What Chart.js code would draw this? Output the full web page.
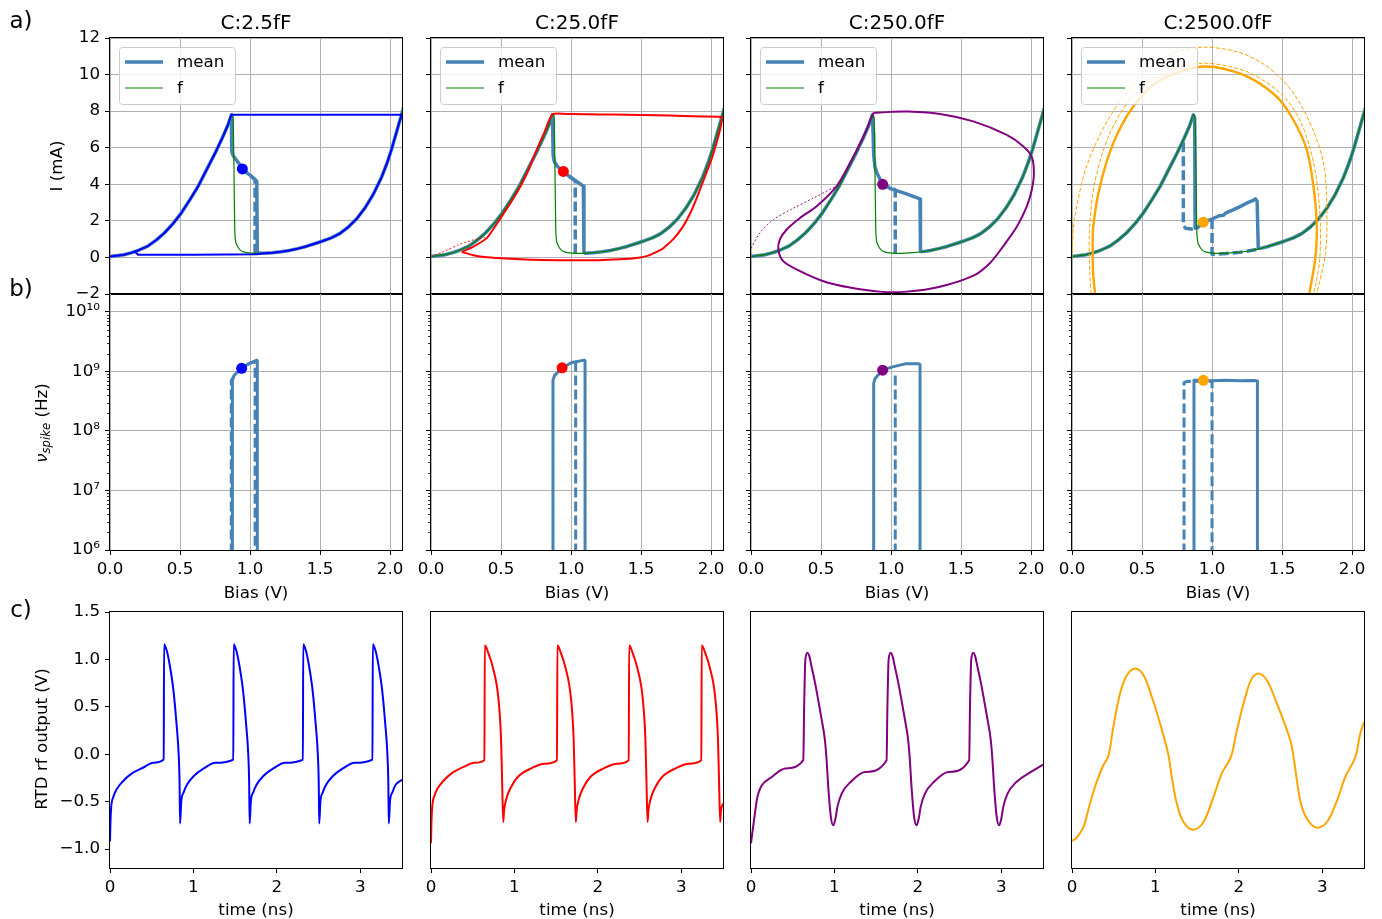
<!DOCTYPE html>
<html>
<head>
<meta charset="utf-8">
<script src="https://cdn.jsdelivr.net/npm/chart.js@4"></script>
<style>
  body { margin: 0; background: #fff; }
  #fig { position: relative; width: 1382px; height: 919px; font-family: 'DejaVu Sans', sans-serif; color: #000; overflow: hidden; }
  .panel { position: absolute; }
  .txt { position: absolute; white-space: nowrap; line-height: 1; transform: translate(-50%, -50%); }
  .rot { transform: translate(-50%, -50%) rotate(-90deg); }
  sub { font-size: 70%; vertical-align: -0.25em; }
</style>
</head>
<body>
<div id="fig"></div>
<script>
// ---- data ----
const panelTitles = ['C:2.5fF', 'C:25.0fF', 'C:250.0fF', 'C:2500.0fF'];

const biasTicks = [0, 0.5, 1.0, 1.5, 2.0];
const currentTicks = [-2, 0, 2, 4, 6, 8, 10, 12];
const freqDecades = [1e6, 1e7, 1e8, 1e9, 1e10];
const timeTicks = [0, 1, 2, 3];
const voltTicks = [-1.0, -0.5, 0.0, 0.5, 1.0, 1.5];

// static I-V curve (V, mA)
const leftBranch = [[0,0.05],[0.1,0.15],[0.15,0.25],[0.2,0.38],[0.27,0.62],[0.33,0.95],[0.39,1.35],[0.45,1.85],
  [0.51,2.44],[0.57,3.15],[0.63,3.9],[0.69,4.8],[0.75,5.7],[0.8,6.5],[0.84,7.2],[0.867,7.8]];
const fDrop = [[0.879,7.6],[0.884,5.5],[0.888,3.0],[0.892,1.3],[0.905,0.7],[0.93,0.4],[0.96,0.29],[1.0,0.24],[1.05,0.22]];
const rightBranch = [[1.1,0.23],[1.16,0.26],[1.22,0.31],[1.28,0.38],[1.34,0.48],[1.4,0.6],[1.46,0.75],[1.52,0.9],
  [1.58,1.07],[1.64,1.3],[1.7,1.65],[1.76,2.1],[1.82,2.7],[1.88,3.45],[1.94,4.4],[1.98,5.2],[2.01,5.9],[2.04,6.7],[2.07,7.5],[2.1,8.3]];
const fCurve = [...leftBranch, ...fDrop, ...rightBranch];

// mean current, forward (solid) and backward (dashed) sweeps
const meanNdr1 = [[0.869,6.6],[0.869,5.8],[0.88,5.55],[0.9,5.35],[0.93,5.05],[0.945,4.85],[0.97,4.65],[1.0,4.5],[1.03,4.3],[1.048,4.15],[1.052,0.25],[1.08,0.23]];
const meanNdr2 = [[0.87,6.6],[0.872,5.6],[0.88,5.25],[0.9,5.0],[0.945,4.7],[1.0,4.35],[1.05,4.1],[1.088,3.9],[1.092,0.28]];
const meanNdr3 = [[0.872,6.8],[0.876,5.6],[0.885,4.95],[0.9,4.6],[0.94,4.0],[1.0,3.75],[1.1,3.5],[1.207,3.2],[1.21,0.33],[1.24,0.33]];
const meanNdr4 = [[0.876,7.6],[0.879,1.6],[0.9,1.65],[0.938,1.93],[1.0,2.1],[1.05,2.28],[1.08,2.3],[1.1,2.44],[1.15,2.6],
  [1.2,2.78],[1.25,2.98],[1.29,3.1],[1.31,3.2],[1.322,3.07],[1.33,0.5],[1.36,0.52]];
const meanBack1 = [[1.036,0.2],[1.036,4.25],[1.0,4.5],[0.945,4.85]];
const meanBack2 = [[1.03,0.22],[1.03,4.2],[0.945,4.7]];
const meanBack3 = [[1.03,0.22],[1.03,3.7],[0.94,4.0]];
const meanBack4a = [[0.795,6.3],[0.795,1.8],[0.81,1.6],[0.85,1.55],[0.879,1.6]];
const meanBack4b = [[1.0,2.1],[1.0,0.17],[1.1,0.21],[1.2,0.28],[1.33,0.45]];

// operating points
const opPointsIV = [[0.945,4.84],[0.945,4.7],[0.94,4.0],[0.938,1.93]];

// limit-cycle trajectories in the I-V plane
const orbit1 = [...leftBranch, [2.085,7.8], ...rightBranch.filter(p => p[0] <= 2.07).reverse(),
  [1.05,0.17],[0.6,0.15],[0.2,0.15],[0.18,0.3]];
const orbit2 = [[0.22,0.3],[0.3,0.58],[0.4,1.07],[0.49,2.07],[0.57,3.0],[0.64,3.9],[0.7,4.85],[0.755,5.9],[0.81,6.85],
  [0.867,7.84],[1.0,7.84],[1.2,7.82],[1.4,7.8],[1.6,7.78],[1.8,7.74],[1.95,7.71],[2.076,7.67],[2.07,7.2],[2.04,6.3],
  [2.0,5.3],[1.945,4.2],[1.9,3.3],[1.85,2.4],[1.8,1.7],[1.73,1.0],[1.65,0.45],[1.55,0.1],[1.45,-0.05],[1.35,-0.1],
  [1.2,-0.15],[1.0,-0.16],[0.8,-0.14],[0.64,-0.1],[0.5,-0.05],[0.38,0.02],[0.3,0.12],[0.22,0.3]];
const start2 = [[0,0.05],[0.1,0.35],[0.2,0.7],[0.3,0.95],[0.385,1.1]];
const orbit3 = [[0.874,7.9],[1.0,7.96],[1.11,7.98],[1.35,7.85],[1.588,7.44],[1.826,6.7],[1.945,6.07],[2.005,5.5],[2.02,4.6],
  [2.005,3.7],[1.97,2.8],[1.9,1.7],[1.8,0.6],[1.707,-0.3],[1.588,-1.0],[1.35,-1.6],[1.11,-1.87],[0.92,-1.87],[0.707,-1.65],
  [0.517,-1.3],[0.35,-0.75],[0.23,-0.2],[0.195,0.44],[0.207,1.0],[0.255,1.53],[0.35,2.16],[0.469,2.8],[0.612,3.9],
  [0.707,5.16],[0.802,6.6],[0.874,7.9]];
const start3 = [[0,0.5],[0.064,1.35],[0.16,2.07],[0.28,2.6],[0.445,3.25],[0.61,3.9]];
const orbit4 = [[0.17,-2.3],[0.152,-1.0],[0.148,0.25],[0.152,1.7],[0.2,3.9],[0.295,6.25],[0.438,8.25],[0.63,9.7],
  [0.938,10.44],[1.224,9.98],[1.46,8.8],[1.58,7.53],[1.676,5.9],[1.724,3.9],[1.748,1.7],[1.736,-0.1],[1.7,-1.75],[1.685,-2.3]];
const start4a = [[0,0],[0.005,1.0],[0.02,2.25],[0.105,5.0],[0.27,7.7],[0.51,10.07],[0.72,11.16],[0.938,11.5],[1.2,11.2],
  [1.4,10.4],[1.58,9.0],[1.72,7.0],[1.8,5.0],[1.82,2.4],[1.81,0.25],[1.75,-1.9],[1.73,-2.3]];
const start4b = [[0.14,-2.3],[0.128,-1.0],[0.124,1.35],[0.16,4.0],[0.26,6.6],[0.42,8.7],[0.65,10.1],[0.938,10.62],
  [1.25,10.15],[1.5,8.9],[1.64,7.3],[1.73,5.0],[1.77,2.4],[1.77,0.0],[1.74,-1.5],[1.71,-2.3]];

// spike rate (V, Hz)
const freqUp1 = [[0.874,1e5],[0.874,7.2e8],[0.885,8.5e8],[0.905,9.5e8],[0.94,1.13e9],[0.988,1.34e9],[1.048,1.55e9],[1.052,1.5e9],[1.052,1e5]];
const freqDown1 = [[0.866,1e5],[0.866,7.0e8],[0.9,9.3e8],[0.94,1.12e9],[1.0,1.38e9],[1.036,1.45e9],[1.036,1e5]];
const freqUp2 = [[0.871,1e5],[0.871,7.2e8],[0.882,8.5e8],[0.898,9.3e8],[0.936,1.15e9],[1.005,1.41e9],[1.095,1.55e9],[1.1,1.5e9],[1.1,1e5]];
const freqDown2 = [[1.033,1e5],[1.033,1.45e9]];
const freqUp3 = [[0.876,1e5],[0.876,6.3e8],[0.885,7.5e8],[0.898,8.2e8],[0.94,1.05e9],[1.005,1.18e9],[1.1,1.34e9],[1.2,1.34e9],[1.207,1.3e9],[1.207,1e5]];
const freqDown3 = [[1.03,1e5],[1.03,9.5e8]];
const freqUp4 = [[0.871,1e5],[0.871,7.1e8],[0.938,7.1e8],[1.0,7.0e8],[1.1,7.1e8],[1.2,7.0e8],[1.3,7.05e8],[1.324,6.9e8],[1.324,1e5]];
const freqDown4 = [[0.8,1e5],[0.8,6.5e8],[0.82,6.8e8],[0.9,6.9e8],[1.0,6.8e8],[1.0,1e5]];
const opPointsFreq = [[0.94,1.13e9],[0.936,1.15e9],[0.94,1.05e9],[0.938,7.1e8]];

// RTD rf output (ns, V)
const traceBlue = [[0,-0.92],[0.006,-0.7],[0.015,-0.55],[0.04,-0.45],[0.08,-0.37],[0.15,-0.29],[0.25,-0.21],[0.4,-0.14],[0.52,-0.09],[0.644,-0.056],
  [0.648,1.16],[0.684,1.08],[0.72,0.92],[0.754,0.72],[0.78,0.5],[0.804,0.25],[0.82,0.05],[0.834,-0.3],[0.84,-0.73],[0.854,-0.5],[0.884,-0.4],[0.924,-0.32],[1.004,-0.23],[1.124,-0.15],[1.264,-0.09],[1.478,-0.056],
  [1.482,1.16],[1.518,1.08],[1.554,0.92],[1.588,0.72],[1.614,0.5],[1.638,0.25],[1.654,0.05],[1.668,-0.3],[1.674,-0.73],[1.688,-0.5],[1.718,-0.4],[1.758,-0.32],[1.838,-0.23],[1.958,-0.15],[2.098,-0.09],[2.312,-0.056],
  [2.316,1.16],[2.352,1.08],[2.388,0.92],[2.422,0.72],[2.448,0.5],[2.472,0.25],[2.488,0.05],[2.502,-0.3],[2.508,-0.73],[2.522,-0.5],[2.552,-0.4],[2.592,-0.32],[2.672,-0.23],[2.792,-0.15],[2.932,-0.09],[3.146,-0.056],
  [3.15,1.16],[3.186,1.08],[3.222,0.92],[3.256,0.72],[3.282,0.5],[3.306,0.25],[3.322,0.05],[3.336,-0.3],[3.342,-0.73],[3.356,-0.5],[3.386,-0.4],[3.426,-0.32],[3.5,-0.27]];
const traceRed = [[0,-0.94],[0.006,-0.7],[0.015,-0.55],[0.04,-0.44],[0.08,-0.36],[0.15,-0.28],[0.25,-0.2],[0.4,-0.13],[0.52,-0.09],[0.64,-0.063],
  [0.645,1.15],[0.69,1.06],[0.74,0.92],[0.81,0.57],[0.84,0.15],[0.853,-0.3],[0.866,-0.715],[0.875,-0.6],[0.9,-0.48],[0.96,-0.345],[1.04,-0.24],[1.2,-0.15],[1.36,-0.1],[1.51,-0.063],
  [1.515,1.15],[1.56,1.06],[1.61,0.92],[1.68,0.57],[1.71,0.15],[1.723,-0.3],[1.736,-0.715],[1.745,-0.6],[1.77,-0.48],[1.83,-0.345],[1.91,-0.24],[2.07,-0.15],[2.23,-0.1],[2.37,-0.063],
  [2.375,1.15],[2.42,1.06],[2.47,0.92],[2.54,0.57],[2.57,0.15],[2.583,-0.3],[2.596,-0.715],[2.605,-0.6],[2.63,-0.48],[2.69,-0.345],[2.77,-0.24],[2.93,-0.15],[3.09,-0.1],[3.24,-0.063],
  [3.245,1.15],[3.29,1.06],[3.34,0.92],[3.41,0.57],[3.44,0.15],[3.453,-0.3],[3.466,-0.715],[3.475,-0.6],[3.5,-0.52]];
const tracePurple = [[0,-0.94],[0.02,-0.8],[0.048,-0.62],[0.07,-0.48],[0.088,-0.415],[0.128,-0.33],[0.25,-0.24],[0.41,-0.15],[0.627,-0.063],
  [0.637,0.5],[0.652,1.0],[0.677,1.07],[0.697,1.04],[0.727,0.92],[0.766,0.76],[0.806,0.57],[0.846,0.37],[0.886,0.148],[0.906,-0.06],[0.926,-0.345],[0.957,-0.66],[0.987,-0.75],[1.012,-0.68],[1.037,-0.55],[1.087,-0.415],[1.197,-0.29],[1.367,-0.187],[1.625,-0.063],
  [1.635,0.5],[1.65,1.0],[1.675,1.07],[1.695,1.04],[1.725,0.92],[1.764,0.76],[1.804,0.57],[1.844,0.37],[1.884,0.148],[1.904,-0.06],[1.924,-0.345],[1.955,-0.66],[1.985,-0.75],[2.01,-0.68],[2.035,-0.55],[2.085,-0.415],[2.195,-0.29],[2.365,-0.187],[2.615,-0.063],
  [2.625,0.5],[2.64,1.0],[2.665,1.07],[2.685,1.04],[2.715,0.92],[2.754,0.76],[2.794,0.57],[2.834,0.37],[2.874,0.148],[2.894,-0.06],[2.914,-0.345],[2.945,-0.66],[2.975,-0.75],[3.0,-0.68],[3.025,-0.55],[3.075,-0.415],[3.185,-0.29],[3.355,-0.187],[3.5,-0.11]];
const traceOrange = [[0,-0.915],[0.056,-0.88],[0.136,-0.77],[0.216,-0.52],[0.296,-0.29],[0.376,-0.116],[0.436,-0.02],[0.496,0.29],
  [0.576,0.64],[0.656,0.83],[0.756,0.905],[0.856,0.835],[0.956,0.606],[1.056,0.324],[1.156,-0.01],[1.196,-0.24],[1.256,-0.52],
  [1.336,-0.715],[1.456,-0.796],[1.576,-0.715],[1.696,-0.45],[1.796,-0.2],[1.904,-0.03],[1.976,0.25],[2.076,0.6],[2.156,0.8],
  [2.236,0.85],[2.336,0.78],[2.456,0.535],[2.616,0.15],[2.656,-0.03],[2.736,-0.49],[2.816,-0.68],[2.936,-0.775],[3.056,-0.715],
  [3.176,-0.49],[3.276,-0.24],[3.396,-0.03],[3.456,0.22],[3.5,0.34]];

// ---- styling / layout ----
const colors = ['#0000ff', '#ff0000', '#800080', '#ffa500'];
const STEEL = '#4682b4', GREEN = '#008000', GRID = '#b0b0b0';
const COL_X = [110, 431, 751, 1072];
const ROW_Y = { a: 38, b: 294, c: 612 };
const PW = 292, PH = 256;

Chart.defaults.font.family = 'DejaVu Sans';
Chart.defaults.font.size = 16.7;
Chart.defaults.color = '#000';

const fig = document.getElementById('fig');
const pts = arr => arr.map(([x, y]) => ({ x, y }));
const minus = s => String(s).replace('-', '\u2212');
const isDecade = v => Math.abs(Math.log10(v) - Math.round(Math.log10(v))) < 1e-6;
const sup = n => String(n).split('').map(d => '⁰¹²³⁴⁵⁶⁷⁸⁹'[d]).join('');
const freqTicks = [];
freqDecades.forEach(d => [1, 2, 3, 4, 5, 6, 7, 8, 9].forEach(m => { if (d * m <= 2e10) freqTicks.push(d * m); }));

function line(arr, color, width, dash, tension, mono) {
  return { data: pts(arr), showLine: true, borderColor: color, backgroundColor: color, borderWidth: width,
    borderDash: dash || [], pointRadius: 0, tension: tension || 0, clip: 0,
    cubicInterpolationMode: mono ? 'monotone' : 'default', borderCapStyle: 'butt', borderJoinStyle: 'round' };
}
function dot(p, color) {
  return { data: pts([p]), showLine: false, pointRadius: 5.5, backgroundColor: color, borderColor: color, borderWidth: 0 };
}

function axis(o) {
  const major = o.major || (() => true);
  return {
    type: o.type || 'linear', min: o.min, max: o.max, bounds: 'data',
    afterBuildTicks: s => { s.ticks = o.ticks.map(v => ({ value: v })); },
    ticks: { display: o.labels, autoSkip: false, maxRotation: 0, padding: 5, callback: o.fmt },
    grid: {
      display: o.grid || o.marks, drawOnChartArea: o.grid, drawTicks: o.marks, tickLength: 5, lineWidth: 1,
      color: c => (c.tick && major(c.tick.value)) ? GRID : 'rgba(0,0,0,0)',
      tickColor: c => (c.tick && major(c.tick.value)) ? '#000' : 'rgba(0,0,0,0)'
    },
    border: { display: false }
  };
}

const frame = {
  id: 'frame',
  afterDatasetsDraw(chart) {
    const a = chart.chartArea, ctx = chart.ctx;
    ctx.save();
    ctx.strokeStyle = '#000';
    ctx.lineWidth = 1;
    ctx.strokeRect(a.left - 0.5, a.top - 0.5, a.right - a.left + 1, a.bottom - a.top + 1);
    ctx.restore();
  }
};

const minorTicks = {
  id: 'minorTicks',
  afterDraw(chart) {
    const y = chart.scales.y, a = chart.chartArea, ctx = chart.ctx;
    ctx.save();
    ctx.strokeStyle = '#000';
    ctx.lineWidth = 0.8;
    y.ticks.forEach(t => {
      if (isDecade(t.value)) return;
      const py = Math.round(y.getPixelForValue(t.value)) + 0.5;
      ctx.beginPath(); ctx.moveTo(a.left - 3, py); ctx.lineTo(a.left, py); ctx.stroke();
    });
    ctx.restore();
  }
};

const legendBox = {
  id: 'legendBox',
  afterDraw(chart) {
    const a = chart.chartArea, ctx = chart.ctx;
    const x = a.left + 9, y = a.top + 9, w = 116, h = 57;
    ctx.save();
    ctx.beginPath();
    ctx.roundRect(x + 0.5, y + 0.5, w, h, 3);
    ctx.fillStyle = 'rgba(255,255,255,0.8)';
    ctx.fill();
    ctx.strokeStyle = '#cccccc';
    ctx.lineWidth = 1;
    ctx.stroke();
    const entries = [['mean', STEEL, 3.5, 15], ['f', GREEN, 1.2, 41]];
    ctx.font = '16.7px "DejaVu Sans"';
    ctx.textBaseline = 'middle';
    ctx.fillStyle = '#000';
    entries.forEach(([label, color, lw, dy]) => {
      ctx.beginPath();
      ctx.strokeStyle = color;
      ctx.lineWidth = lw;
      ctx.moveTo(x + 6, y + dy); ctx.lineTo(x + 44, y + dy);
      ctx.stroke();
      ctx.fillText(label, x + 58, y + dy + 1);
    });
    ctx.restore();
  }
};

function makePanel(row, col, datasets, scales, plugins) {
  const L = col === 0 ? 110 : 40, R = 20, T = 20, B = row === 'a' ? 20 : 45;
  const wrap = document.createElement('div');
  wrap.className = 'panel';
  wrap.style.left = (COL_X[col] - L) + 'px';
  wrap.style.top = (ROW_Y[row] - T) + 'px';
  const cv = document.createElement('canvas');
  cv.width = L + PW + R;
  cv.height = T + PH + B;
  wrap.appendChild(cv);
  fig.appendChild(wrap);
  scales.x.afterFit = s => { s.height = B; };
  scales.y.afterFit = s => { s.width = L; };
  return new Chart(cv, {
    type: 'scatter',
    data: { datasets },
    options: {
      responsive: false, animation: false, events: [],
      layout: { padding: { left: 0, top: T, right: R, bottom: 0 } },
      plugins: { legend: { display: false }, tooltip: { enabled: false } },
      scales
    },
    plugins: [frame, ...plugins]
  });
}

function addText(html, x, y, size, cls) {
  const d = document.createElement('div');
  d.className = 'txt' + (cls ? ' ' + cls : '');
  d.style.left = x + 'px';
  d.style.top = y + 'px';
  d.style.fontSize = size + 'px';
  d.innerHTML = html;
  fig.appendChild(d);
}

// ---- row a: I-V planes ----
const meanUp = [
  [...leftBranch, ...meanNdr1, ...rightBranch],
  [...leftBranch, ...meanNdr2, ...rightBranch],
  [...leftBranch, ...meanNdr3, ...rightBranch.filter(p => p[0] > 1.24)],
  [...leftBranch, ...meanNdr4, ...rightBranch.filter(p => p[0] > 1.36)]
];
const meanBack = [[meanBack1], [meanBack2], [meanBack3], [meanBack4a, meanBack4b]];
const orbits = [[orbit1, 0], [orbit2, 0.15], [orbit3, 0.3], [orbit4, 0.3]];
const transients = [[], [start2], [start3], [start4a, start4b]];

for (let i = 0; i < 4; i++) {
  const ds = [dot(opPointsIV[i], colors[i]), line(orbits[i][0], colors[i], i === 3 ? 2.4 : 2, [], orbits[i][1])];
  transients[i].forEach(t => ds.push(line(t, colors[i], i === 3 ? 1 : 0.9, i === 3 ? [4, 2] : [2, 2], 0.3)));
  ds.push(line(fCurve, GREEN, 1.2, [], 0, true));
  ds.push(line(meanUp[i], STEEL, 3.5));
  meanBack[i].forEach(m => ds.push(line(m, STEEL, 3.5, [10, 4])));
  makePanel('a', i, ds, {
    x: axis({ min: 0, max: 2.085, ticks: biasTicks, labels: false, grid: true, marks: false }),
    y: axis({ min: -2, max: 12, ticks: currentTicks, labels: i === 0, grid: true, marks: true, fmt: v => minus(v) })
  }, [legendBox]);
}

// ---- row b: spike rate ----
const freqUp = [freqUp1, freqUp2, freqUp3, freqUp4];
const freqDown = [freqDown1, freqDown2, freqDown3, freqDown4];
for (let i = 0; i < 4; i++) {
  const ds = [dot(opPointsFreq[i], colors[i]), line(freqUp[i], STEEL, 3), line(freqDown[i], STEEL, 3, [10, 4])];
  makePanel('b', i, ds, {
    x: axis({ min: 0, max: 2.085, ticks: biasTicks, labels: true, grid: true, marks: true, fmt: v => v.toFixed(1) }),
    y: axis({ type: 'logarithmic', min: 1e6, max: 2e10, ticks: freqTicks, labels: i === 0, grid: true, marks: true,
      major: isDecade, fmt: v => isDecade(v) ? '10' + sup(Math.round(Math.log10(v))) : '' })
  }, [minorTicks]);
}

// ---- row c: time traces ----
const traces = [traceBlue, traceRed, tracePurple, traceOrange];
for (let i = 0; i < 4; i++) {
  const smooth = i === 3 ? line(traces[i], colors[i], 2, [], 0.35) : line(traces[i], colors[i], 2, [], 0, true);
  makePanel('c', i, [smooth], {
    x: axis({ min: 0, max: 3.5, ticks: timeTicks, labels: true, grid: false, marks: true, fmt: v => String(v) }),
    y: axis({ min: -1.2, max: 1.5, ticks: voltTicks, labels: i === 0, grid: false, marks: i === 0, fmt: v => minus(v.toFixed(1)) })
  }, []);
}

// ---- text ----
panelTitles.forEach((t, i) => addText(t, COL_X[i] + PW / 2, 22, 20));
for (let i = 0; i < 4; i++) {
  addText('Bias (V)', COL_X[i] + PW / 2, 592, 16.7);
  addText('time (ns)', COL_X[i] + PW / 2, 909, 16.7);
}
addText('a)', 21, 20, 23);
addText('b)', 21, 288, 23);
addText('c)', 21, 609, 23);
addText('I (mA)', 56, 166, 16.7, 'rot');
addText('<i>ν</i><sub><i>spike</i></sub> (Hz)', 43, 423, 16.7, 'rot');
addText('RTD rf output (V)', 41, 739, 16.7, 'rot');
</script>
</body>
</html>
